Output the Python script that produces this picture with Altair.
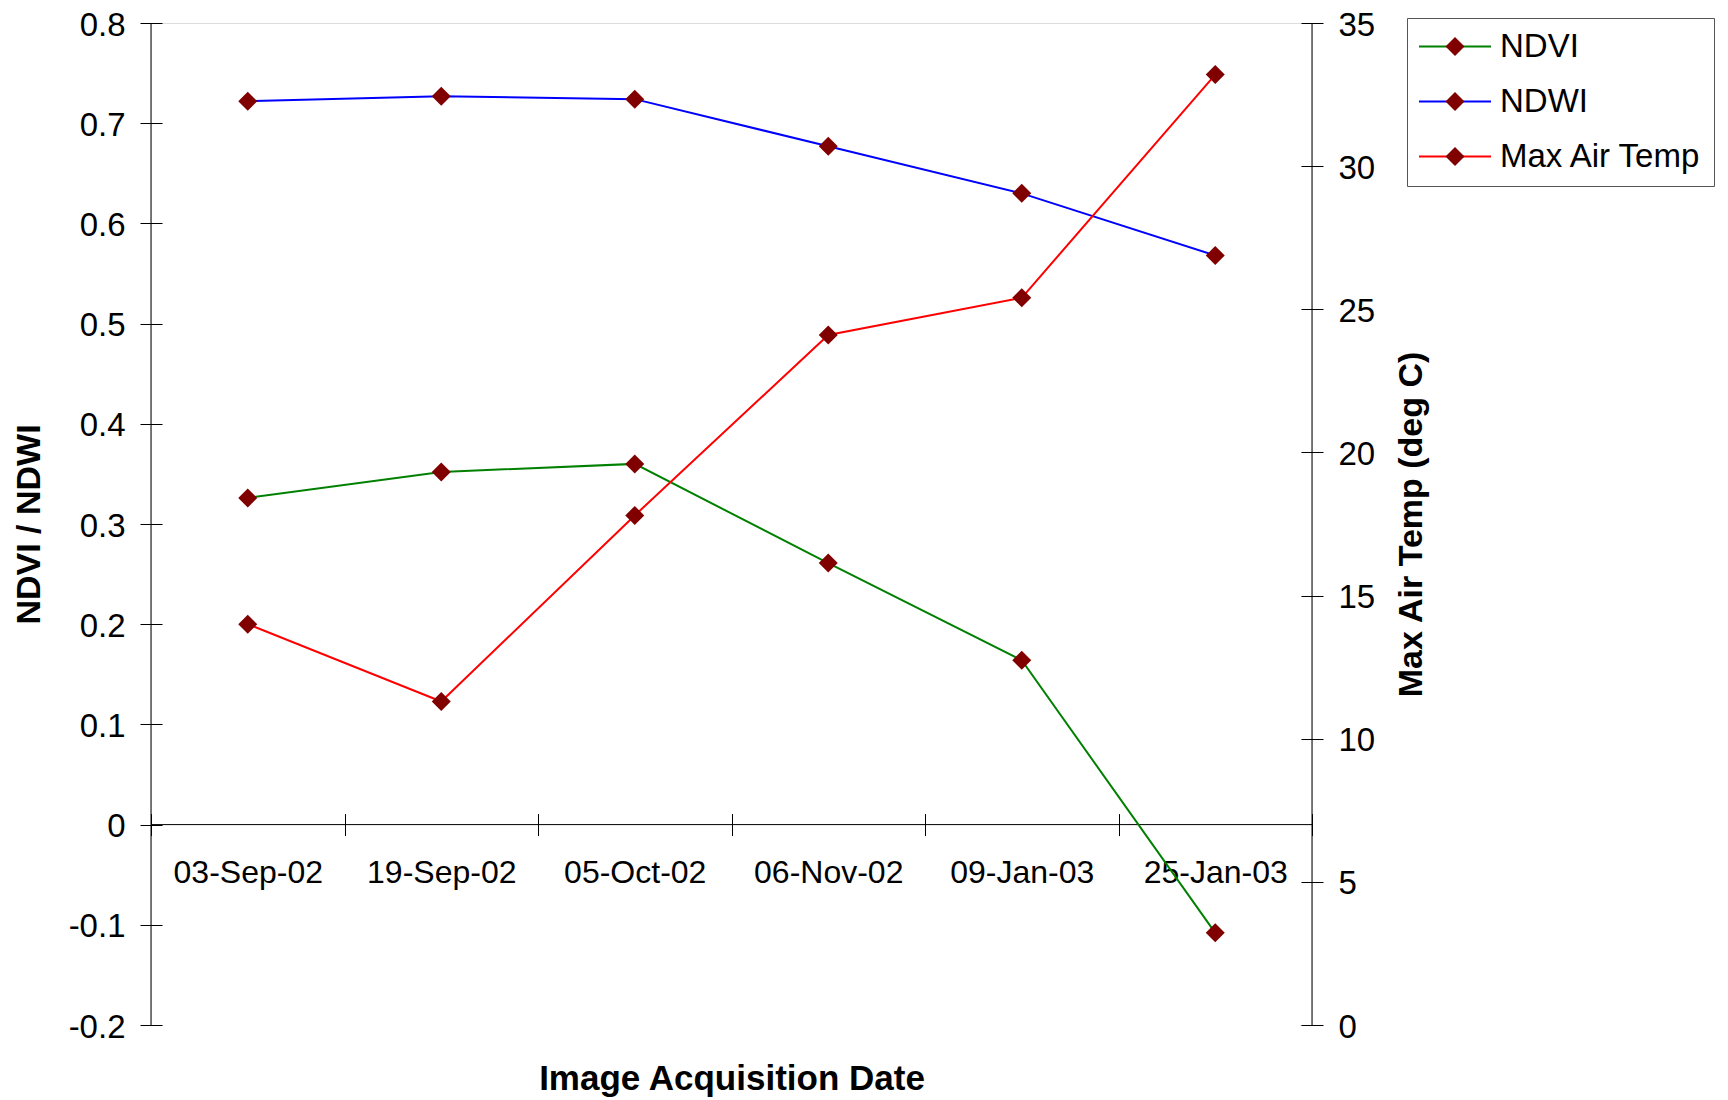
import altair as alt
import pandas as pd

# ---------------- data ----------------
DATES = ["03-Sep-02", "19-Sep-02", "05-Oct-02", "06-Nov-02", "09-Jan-03", "25-Jan-03"]
NDVI = [0.326, 0.352, 0.360, 0.261, 0.164, -0.108]
NDWI = [0.722, 0.727, 0.724, 0.677, 0.630, 0.568]
TEMP = [14.0, 11.3, 17.8, 24.1, 25.4, 33.2]
SERIES = ["NDVI", "NDWI", "Max Air Temp"]
LINE_COLORS = ["#008000", "#0000FF", "#FF0000"]
MARKER_COLOR = "#800000"
LEFT_TICKS = [-0.2, -0.1, 0, 0.1, 0.2, 0.3, 0.4, 0.5, 0.6, 0.7, 0.8]
RIGHT_TICKS = [0, 5, 10, 15, 20, 25, 30, 35]

W, H = 1161, 1002
FONT = "Liberation Sans"

left_df = pd.DataFrame({
    "date": DATES * 2,
    "value": NDVI + NDWI,
    "series": ["NDVI"] * len(DATES) + ["NDWI"] * len(DATES),
})
left_df["series_f"] = left_df["series"]
right_df = pd.DataFrame({"date": DATES, "temp": TEMP, "series": ["Max Air Temp"] * len(DATES)})
right_df["series_f"] = right_df["series"]
zero_df = pd.DataFrame({"value": [0]})

# ---------------- legend symbols (line with a gap + diamond) ----------------
R = 15.0   # sqrt(symbolSize)/2
LEG_FS = 33
HALF = LEG_FS / 2.0


def u(px):
    return px / R


DC = 36 - HALF  # diamond centre relative to symbol centre
line_path = "M{:.4f},0L{:.4f},0M{:.4f},0L{:.4f},0".format(u(-HALF), u(DC - 8), u(DC + 8), u(72 - HALF))
diamond_path = "M{:.4f},0L{:.4f},{:.4f}L{:.4f},0L{:.4f},{:.4f}Z".format(
    u(DC - 9.5), u(DC), u(-9.5), u(DC + 9.5), u(DC), u(9.5))

common = dict(orient="none", legendX=1256, legendY=-5, padding=12, rowPadding=21,
              symbolSize=900, labelFontSize=LEG_FS, labelFont=FONT, labelOffset=81 - LEG_FS,
              labelColor="black", title=None, labelLimit=400)
stroke_legend = alt.Legend(**common, symbolType=line_path, symbolStrokeWidth=2,
                           symbolFillColor="transparent", strokeColor="#555555")
fill_legend = alt.Legend(**common, symbolType=diamond_path, symbolStrokeWidth=0, labelOpacity=0)

# ---------------- axes ----------------
axis_common = dict(domain=False, tickSize=22, tickColor="black", tickWidth=1,
                   grid=False, labelFont=FONT, labelColor="black",
                   titleFont=FONT, titleFontWeight="bold", titleColor="black")

x_axis = alt.Axis(orient="bottom", offset=-(H * 0.2) - 11, tickBand="extent",
                  labelAngle=0, labelPadding=22, labelBaseline="top", labelLimit=300, labelFontSize=32,
                  title="Image Acquisition Date", titleFontSize=35, titleX=W / 2, titleY=276,
                  titleAlign="center", titleBaseline="alphabetic", **axis_common)
left_axis = alt.Axis(orient="left", offset=-11, values=LEFT_TICKS, labelExpr="'' + datum.value",
                     labelPadding=15, labelFontSize=33, labelBaseline="alphabetic", labelOffset=12,
                     title="NDVI / NDWI", titleFontSize=34, titleX=-133, titleY=H / 2,
                     titleAngle=270, titleAlign="center", titleBaseline="middle", **axis_common)
right_axis = alt.Axis(orient="right", offset=-11, values=RIGHT_TICKS, labelPadding=15, labelFontSize=33,
                      labelBaseline="alphabetic", labelOffset=12,
                      title="Max Air Temp (deg C)", titleFontSize=34, titleX=110, titleY=H / 2,
                      titleAngle=270, titleAlign="center", titleBaseline="middle", **axis_common)

x_enc = alt.X("date:N", sort=DATES,
              scale=alt.Scale(type="band", paddingInner=0, paddingOuter=0),
              bandPosition=0.5, axis=x_axis)
y_left = alt.Y("value:Q", scale=alt.Scale(domain=[-0.2, 0.8], nice=False, zero=False), axis=left_axis)
y_right = alt.Y("temp:Q", scale=alt.Scale(domain=[0, 35], nice=False), axis=right_axis)
stroke_enc = alt.Stroke("series:N", scale=alt.Scale(domain=SERIES, range=LINE_COLORS), legend=stroke_legend)
fill_enc = alt.Fill("series_f:N", sort=SERIES, scale=alt.Scale(range=[MARKER_COLOR] * 3), legend=fill_legend)

# ---------------- layers ----------------
# white mask over the faint frame line along the bottom edge of the plot area
bottom_mask = alt.Chart(zero_df).mark_rule(color="white", strokeWidth=3).encode(
    y=alt.value(H), x=alt.value(12), x2=alt.value(W - 12))
zero_line = alt.Chart(zero_df).mark_rule(color="black", strokeWidth=1).encode(
    y=y_left, x=alt.value(0), x2=alt.value(W))
left_line_axis = alt.Chart(zero_df).mark_rule(color="black", strokeWidth=1).encode(
    x=alt.value(0), y=alt.value(0), y2=alt.value(H))
right_line_axis = alt.Chart(zero_df).mark_rule(color="black", strokeWidth=1).encode(
    x=alt.value(W), y=alt.value(0), y2=alt.value(H))

line_left = alt.Chart(left_df).mark_line(strokeWidth=2).encode(x=x_enc, y=y_left, stroke=stroke_enc)
pts_left = alt.Chart(left_df).mark_point(shape="diamond", filled=True, size=361, opacity=1,
                                         strokeWidth=0).encode(x=x_enc, y=y_left, fill=fill_enc)
line_right = alt.Chart(right_df).mark_line(strokeWidth=2).encode(x=x_enc, y=y_right, stroke=stroke_enc)
pts_right = alt.Chart(right_df).mark_point(shape="diamond", filled=True, size=361, opacity=1,
                                           strokeWidth=0).encode(x=x_enc, y=y_right, fill=fill_enc)

left_group = alt.layer(bottom_mask, zero_line, left_line_axis, right_line_axis, line_left, pts_left)
right_group = alt.layer(line_right, pts_right)

chart = (
    alt.layer(left_group, right_group)
    .resolve_scale(y="independent")
    .properties(width=W, height=H, background="white",
                autosize=alt.AutoSizeParams(type="none"),
                padding={"left": 143, "top": 15, "right": 408, "bottom": 72})
    .configure_view(stroke="transparent", strokeWidth=0)
    .configure_axis(domain=False, grid=False)
    .configure(font=FONT)
)

chart.save("out.html", embed_options={"renderer": "svg", "actions": False})
